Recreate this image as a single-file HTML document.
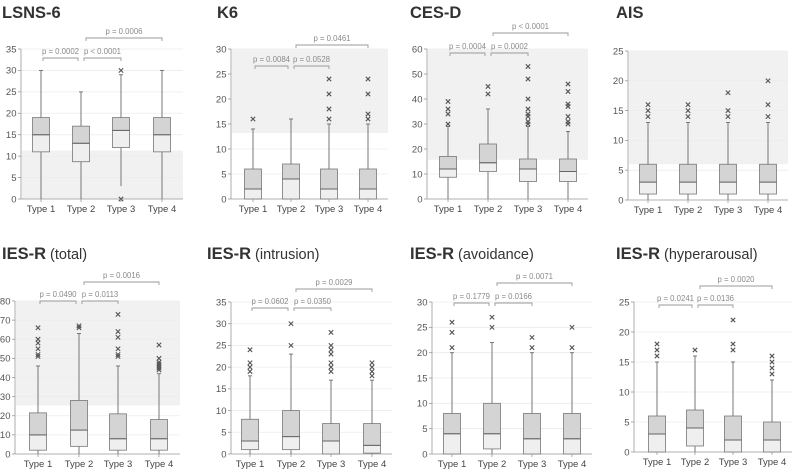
<!DOCTYPE html>
<html><head><meta charset="utf-8">
<style>
html,body{margin:0;padding:0;background:#fff;}
svg{display:block;font-family:"Liberation Sans",Arial,sans-serif;}
</style></head>
<body>
<svg id="chart" width="795" height="469" viewBox="0 0 795 469" xmlns="http://www.w3.org/2000/svg"></svg>
<script>
const categories = ["Type 1","Type 2","Type 3","Type 4"];
// stats per type: [min, q1, median, q3, max]
const lsnsStats = [[0,11,15,19,30],[0,8.7,13,17,25],[3,12,16,19,29],[0,11,15,19,30]];
const lsnsOut = [[],[],[0,30],[]];
const k6Stats = [[0,0,2,6,14],[0,0,4,7,16],[0,0,2,6,15],[0,0,2,6,15]];
const k6Out = [[16],[],[16,18,21,24],[16,17,21,24]];
const cesdStats = [[0,8.7,12,17,29],[0,11,14.5,22,36],[0,7,12,16,29],[0,7,11,16,27]];
const cesdOut = [[30,34,36,39],[42,45],[30,31,33,34,36,40,48,53],[30,31,33,37,38,43,46]];
const aisStats = [[0,1,3,6,13],[0,1,3,6,13],[0,1,3,6,13],[0,1,3,6,13]];
const aisOut = [[14,15,16],[14,15,16],[14,15,18],[14,16,20]];
const iesTotalStats = [[0,2,10,21.5,46],[0,4,12.5,28,63],[0,2,8,21,46],[0,2,8,18,42]];
const iesTotalOut = [[51,52,55,58,60,66],[66,67],[51,52,55,61,64,73],[44,45,46,47,48,50,57]];
const iesIntrStats = [[0,1,3,8,18],[0,1,4,10,23],[0,0,3,7,17],[0,0.2,2,7,17]];
const iesIntrOut = [[19,20,21,24],[25,30],[19,20,21,23,24,25,28],[18,19,20,21]];
const iesAvoidStats = [[0,0,4,8,20],[0,1,4,10,22],[0,0,3,8,20],[0,0,3,8,20]];
const iesAvoidOut = [[21,24,26],[25,27],[21,23],[21,25]];
const iesHyperStats = [[0,0,3,6,15],[0,1,4,7,16],[0,0,2,6,15],[0,0,2,5,12]];
const iesHyperOut = [[16,17,18],[17],[17,18,22],[13,14,15,16]];
const lsnsP = ["p = 0.0002","p < 0.0001","p = 0.0006"];
const k6P = ["p = 0.0084","p = 0.0528","p = 0.0461"];
const cesdP = ["p = 0.0004","p = 0.0002","p < 0.0001"];
const iesTotalP = ["p = 0.0490","p = 0.0113","p = 0.0016"];
const iesIntrP = ["p = 0.0602","p = 0.0350","p = 0.0029"];
const iesAvoidP = ["p = 0.1779","p = 0.0166","p = 0.0071"];
const iesHyperP = ["p = 0.0241","p = 0.0136","p = 0.0020"];
const lsnsMax = 35, k6Max = 30, cesdMax = 60, aisMax = 25, iesTotalMax = 80, iesIntrMax = 35, iesAvoidMax = 30, iesHyperMax = 25;
const lsnsShade = [0,11.3], k6Shade = [13.2,30], cesdShade = [15.7,60], aisShade = [6,25], iesTotalShade = [25.4,80];

const panels = [
 {name:"lsns-6",t:"LSNS-6",s:"",tx:2,ty:18,ax:21,right:183,top:49,bot:199,cats:[41,81,121,162],max:lsnsMax,step:5,stats:lsnsStats,out:lsnsOut,shade:lsnsShade,p:lsnsP,b1:58,b2:38},
 {name:"k6",t:"K6",s:"",tx:217,ty:18,ax:231,right:388,top:49,bot:199,cats:[253,291,329,368],max:k6Max,step:5,stats:k6Stats,out:k6Out,shade:k6Shade,p:k6P,b1:66,b2:45},
 {name:"ces-d",t:"CES-D",s:"",tx:410,ty:18,ax:427,right:588,top:49,bot:199,cats:[448,488,528,568],max:cesdMax,step:10,stats:cesdStats,out:cesdOut,shade:cesdShade,p:cesdP,b1:53,b2:33},
 {name:"ais",t:"AIS",s:"",tx:616,ty:18,ax:628,right:788,top:51,bot:200,cats:[648,688,728,768],max:aisMax,step:5,stats:aisStats,out:aisOut,shade:aisShade,p:null},
 {name:"ies-r-total",t:"IES-R",s:" (total)",tx:2,ty:259,ax:15,right:180,top:301,bot:454,cats:[38,79,118,159],max:iesTotalMax,step:10,stats:iesTotalStats,out:iesTotalOut,shade:iesTotalShade,p:iesTotalP,b1:301,b2:282},
 {name:"ies-r-intrusion",t:"IES-R",s:" (intrusion)",tx:207,ty:259,ax:231,right:392,top:302,bot:454,cats:[250,291,331,372],max:iesIntrMax,step:5,stats:iesIntrStats,out:iesIntrOut,shade:null,p:iesIntrP,b1:308,b2:289},
 {name:"ies-r-avoidance",t:"IES-R",s:" (avoidance)",tx:410,ty:259,ax:432,right:592,top:302,bot:454,cats:[452,492,532,572],max:iesAvoidMax,step:5,stats:iesAvoidStats,out:iesAvoidOut,shade:null,p:iesAvoidP,b1:303,b2:283},
 {name:"ies-r-hyperarousal",t:"IES-R",s:" (hyperarousal)",tx:616,ty:259,ax:634,right:792,top:302,bot:452,cats:[657,695,733,772],max:iesHyperMax,step:5,stats:iesHyperStats,out:iesHyperOut,shade:null,p:iesHyperP,b1:305,b2:286}
];
const NS="http://www.w3.org/2000/svg";
const svg=document.getElementById('chart');
function mk(tag,attrs,parent){const e=document.createElementNS(NS,tag);for(const k in attrs)e.setAttribute(k,attrs[k]);(parent||svg).appendChild(e);return e;}

panels.forEach(P=>{
  const g=mk('g',{});
  
  
  const y=v=>P.bot-(v/P.max)*(P.bot-P.top);
  const tt=mk('text',{x:P.tx,y:P.ty,'font-size':16.5,'font-weight':'bold',fill:'#333'},g);
  
  
  tt.textContent=P.t;
  if(P.s){const ts=mk('tspan',{'font-weight':'normal','font-size':14.5},tt);ts.textContent=P.s;}
  if(P.shade){
    const r=mk('rect',{x:P.ax+1,y:y(P.shade[1]),width:P.right-P.ax-1,height:y(P.shade[0])-y(P.shade[1]),fill:'#f1f1f1'},g);
    
    
  }
  for(let v=0;v<=P.max;v+=P.step){
    if(v>0){mk('line',{x1:P.ax,x2:P.right,y1:y(v),y2:y(v),stroke:'#ececec','stroke-width':0.8},g);}
    mk('line',{x1:P.ax-3,x2:P.ax,y1:y(v),y2:y(v),stroke:'#999','stroke-width':0.8},g);
    const tl=mk('text',{x:P.ax-4.5,y:y(v)+3.3,'font-size':9.5,'text-anchor':'end',fill:'#555'},g);
    
    
    tl.textContent=v;
  }
  mk('line',{x1:P.ax,x2:P.ax,y1:P.top,y2:P.bot,stroke:'#999','stroke-width':0.8},g);
  mk('line',{x1:P.ax,x2:P.right,y1:P.bot,y2:P.bot,stroke:'#999','stroke-width':0.8},g);
  P.cats.forEach((cx,i)=>{
    const st=P.stats[i];const bw=8.5;
    const bg=mk('g',{},g);
    
    
    mk('line',{x1:cx,x2:cx,y1:y(st[4]),y2:y(st[3]),stroke:'#777','stroke-width':1},bg);
    mk('line',{x1:cx,x2:cx,y1:y(st[1]),y2:y(st[0]),stroke:'#777','stroke-width':1},bg);
    mk('line',{x1:cx-2,x2:cx+2,y1:y(st[4]),y2:y(st[4]),stroke:'#777','stroke-width':1},bg);
    mk('rect',{x:cx-bw,y:y(st[2]),width:2*bw,height:y(st[1])-y(st[2]),fill:'#efefef',stroke:'#777','stroke-width':0.8},bg);
    mk('rect',{x:cx-bw,y:y(st[3]),width:2*bw,height:y(st[2])-y(st[3]),fill:'#d4d4d4',stroke:'#777','stroke-width':0.8},bg);
    mk('line',{x1:cx-bw,x2:cx+bw,y1:y(st[2]),y2:y(st[2]),stroke:'#666','stroke-width':1},bg);
    P.out[i].forEach(o=>{
      const oy=y(o);
      const m=mk('path',{d:`M${cx-2.2},${oy-2.2}L${cx+2.2},${oy+2.2}M${cx-2.2},${oy+2.2}L${cx+2.2},${oy-2.2}`,stroke:'#555','stroke-width':1.1},bg);
      
      
    });
    mk('line',{x1:cx,x2:cx,y1:P.bot,y2:P.bot+3,stroke:'#999','stroke-width':0.8},g);
    const xl=mk('text',{x:cx,y:P.bot+13,'font-size':9.5,'text-anchor':'middle',fill:'#444'},g);
    
    
    xl.textContent=categories[i];
  });
  if(P.p){
    const c=P.cats;
    const defs=[[c[0]+2,c[1]-3,P.b1],[c[1]+3,c[2],P.b1],[c[1]+5,c[3],P.b2]];
    defs.forEach((d,k)=>{
      const bk=mk('path',{d:`M${d[0]},${d[2]+3}V${d[2]}H${d[1]}V${d[2]+3}`,fill:'none',stroke:'#999','stroke-width':0.9},g);
      
      
      const pt=mk('text',{x:(d[0]+d[1])/2,y:d[2]-4,'font-size':7.8,'text-anchor':'middle',fill:'#8a8a8a'},g);
      
      
      pt.textContent=P.p[k];
    });
  }
});
</script>
</body></html>
